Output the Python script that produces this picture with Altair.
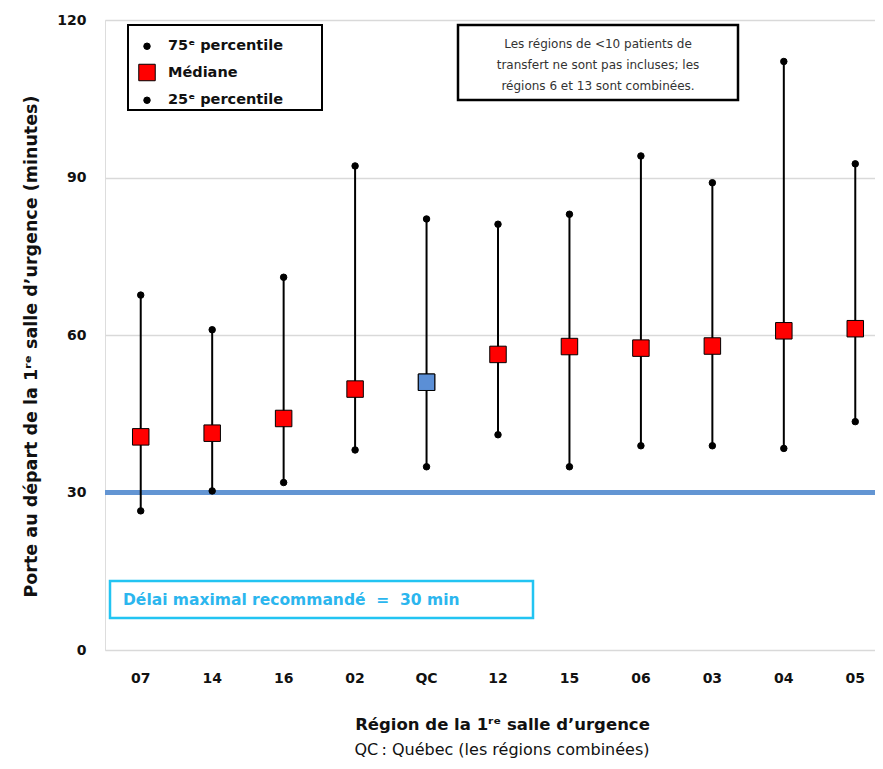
import altair as alt
import pandas as pd

regions = ["07", "14", "16", "02", "QC", "12", "15", "06", "03", "04", "05"]
p75 = [67.6, 61.0, 71.0, 92.2, 82.1, 81.1, 83.0, 94.1, 89.0, 112.1, 92.6]
median = [40.6, 41.3, 44.1, 49.7, 51.0, 56.3, 57.8, 57.5, 57.9, 60.8, 61.2]
p25 = [26.5, 30.3, 31.9, 38.1, 34.9, 41.0, 34.9, 38.9, 38.9, 38.4, 43.5]

stat_labels = ["75ᵉ percentile", "Médiane", "25ᵉ percentile"]
stat_colors = ["#000000", "#ff0000", "#000000"]
stat_shapes = ["circle", "square", "circle"]
stat_sizes = [42, 272, 42]
y_ticks = [0, 30, 60, 90, 120]
target = [30]
qc_region = "QC"
qc_color = "#5b8fd6"

note_lines = ["Les régions de <10 patients de", "transfert ne sont pas incluses; les", "régions 6 et 13 sont combinées."]
target_text = "Délai maximal recommandé\u00a0\u00a0=\u00a0\u00a030 min"
x_title = "Région de la 1ʳᵉ salle d’urgence"
x_subtitle = "QC\u202f: Québec (les régions combinées)"
y_title = "Porte au départ de la 1ʳᵉ salle d’urgence (minutes)"

FONT = "DejaVu Sans"

wide = pd.DataFrame({"region": regions, "p75": p75, "median": median, "p25": p25})
long_rows = []
for r, a, m, b in zip(regions, p75, median, p25):
    long_rows.append({"region": r, "stat": stat_labels[0], "value": a})
    long_rows.append({"region": r, "stat": stat_labels[1], "value": m})
    long_rows.append({"region": r, "stat": stat_labels[2], "value": b})
long = pd.DataFrame(long_rows)
qc_df = wide[wide["region"] == qc_region]
one = pd.DataFrame({"k": [0]})

xenc = alt.X(
    "region:N",
    sort=regions,
    scale=alt.Scale(range=[0, 786]),
    axis=alt.Axis(
        title=x_title, labelAngle=0, ticks=False, domain=False, grid=False,
        labelFontSize=14, labelFontWeight="bold", labelColor="#111", labelPadding=21,
        titleFontSize=16.5, titleFontWeight="bold", titleColor="#111", titlePadding=31,
        labelFont=FONT, titleFont=FONT, titleX=397,
    ),
)
yscale = alt.Scale(domain=[0, 120], nice=False)
yaxis = alt.Axis(
    title=y_title, values=y_ticks, grid=True, gridColor="#d9d9d9", gridWidth=1.5,
    domain=False, ticks=False, labelFontSize=14, labelFontWeight="bold",
    labelColor="#111", labelPadding=19, titleFontSize=17.5, titleFontWeight="bold",
    titleColor="#111", titlePadding=16, labelFont=FONT, titleFont=FONT, titleY=326,
)

base = alt.Chart(wide)

target_line = alt.Chart(pd.DataFrame({"t": target})).mark_rule(
    color="#6395d3", strokeWidth=5
).encode(y=alt.Y("t:Q", scale=yscale, axis=yaxis))

whiskers = base.mark_rule(color="black", strokeWidth=2).encode(
    x=xenc,
    y=alt.Y("p25:Q", scale=yscale, axis=yaxis),
    y2="p75:Q",
)

legend_box = alt.Chart(one).mark_rect(fill="white", stroke="black", strokeWidth=2).encode(
    x=alt.value(23), x2=alt.value(217), y=alt.value(5), y2=alt.value(90)
)

points = alt.Chart(long).mark_point(filled=True, stroke="black", strokeWidth=1, opacity=1).encode(
    x=xenc,
    y=alt.Y("value:Q", scale=yscale, axis=yaxis),
    color=alt.Color("stat:N", sort=stat_labels, scale=alt.Scale(domain=stat_labels, range=stat_colors), legend=alt.Legend(
        title=None, orient="none", legendX=23, legendY=10,
        padding=9, labelFontSize=14.5, labelFontWeight="bold", labelFont=FONT, labelColor="#111",
        rowPadding=8.5, labelOffset=12, symbolOffset=1, symbolStrokeColor="black", symbolStrokeWidth=1,
    )),
    shape=alt.Shape("stat:N", sort=stat_labels, scale=alt.Scale(domain=stat_labels, range=stat_shapes)),
    size=alt.Size("stat:N", sort=stat_labels, scale=alt.Scale(type="ordinal", domain=stat_labels, range=stat_sizes)),
)

qc_point = alt.Chart(qc_df).mark_point(
    shape="square", filled=True, fill=qc_color, stroke="black", strokeWidth=1, size=272, opacity=1
).encode(x=xenc, y=alt.Y("median:Q", scale=yscale, axis=yaxis))

note_box = alt.Chart(one).mark_rect(fill="white", stroke="black", strokeWidth=2.5).encode(
    x=alt.value(353), x2=alt.value(633), y=alt.value(5), y2=alt.value(80)
)
note_text = alt.Chart(one).mark_text(
    text=note_lines, lineHeight=21, fontSize=12, font=FONT, color="#333", align="center", baseline="middle"
).encode(x=alt.value(493), y=alt.value(24))

target_box = alt.Chart(one).mark_rect(fill="white", stroke="#22c4f2", strokeWidth=2.5).encode(
    x=alt.value(5), x2=alt.value(428), y=alt.value(561), y2=alt.value(598)
)
target_label = alt.Chart(one).mark_text(
    text=target_text, fontSize=15.5, fontWeight="bold", font=FONT, color="#2bb6ee", align="left", baseline="middle"
).encode(x=alt.value(18), y=alt.value(580))

subtitle = alt.Chart(one).mark_text(
    text=x_subtitle, fontSize=16, font=FONT, color="#111", align="center", baseline="middle"
).encode(x=alt.value(397), y=alt.value(730))

chart = alt.layer(
    target_line, whiskers, legend_box, points, qc_point, note_box, note_text, target_box, target_label, subtitle
).properties(
    width=770, height=630,
    autosize=alt.AutoSizeParams(type="none"),
    padding={"left": 97, "top": 12, "right": 0, "bottom": 111},
).configure_view(
    fill="#f5f5f5", stroke="#c8c8c8", strokeWidth=1.5
).configure(background="white")

chart.save("out.html", embed_options={"renderer": "svg", "actions": False})
